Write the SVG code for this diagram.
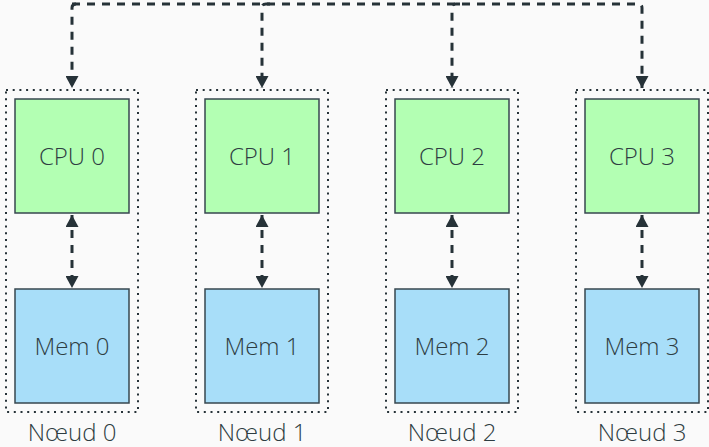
<svg xmlns="http://www.w3.org/2000/svg" width="709" height="447" viewBox="0 0 709 447">
  <defs>
    <marker id="head" viewBox="0 0 12 13" refX="12" refY="6.5" markerWidth="12" markerHeight="13" markerUnits="userSpaceOnUse" orient="auto-start-reverse">
      <path d="M0,0 L12,6.5 L0,13 Z" fill="#263238"/>
    </marker>
  </defs>
  <style>
    .frame { fill: none; stroke: #263238; stroke-width: 2; stroke-dasharray: 2 4.7; }
    .cpu { fill: #b3ffb3; stroke: #37474f; stroke-width: 1.5; }
    .mem { fill: #a8def9; stroke: #37474f; stroke-width: 1.5; }
    .link { fill: none; stroke: #263238; stroke-width: 3; stroke-dasharray: 8 7; }
    .lbl { font-family: "Open Sans", "Liberation Sans", sans-serif; font-weight: 300; font-size: 24px; fill: #2e3d42; text-anchor: middle; }
  </style>
  <rect width="709" height="447" fill="#fafafa"/>

  <g id="node0">
    <rect class="frame" x="6" y="90" width="132" height="322"/>
    <rect class="cpu" x="15" y="99" width="114" height="114"/>
    <text class="lbl" x="72" y="165">CPU 0</text>
    <rect class="mem" x="15" y="289" width="114" height="114"/>
    <text class="lbl" x="72" y="355">Mem 0</text>
    <text class="lbl" x="72" y="441">Nœud 0</text>
  </g>
  <g id="node1">
    <rect class="frame" x="196" y="90" width="132" height="322"/>
    <rect class="cpu" x="205" y="99" width="114" height="114"/>
    <text class="lbl" x="262" y="165">CPU 1</text>
    <rect class="mem" x="205" y="289" width="114" height="114"/>
    <text class="lbl" x="262" y="355">Mem 1</text>
    <text class="lbl" x="262" y="441">Nœud 1</text>
  </g>
  <g id="node2">
    <rect class="frame" x="386" y="90" width="132" height="322"/>
    <rect class="cpu" x="395" y="99" width="114" height="114"/>
    <text class="lbl" x="452" y="165">CPU 2</text>
    <rect class="mem" x="395" y="289" width="114" height="114"/>
    <text class="lbl" x="452" y="355">Mem 2</text>
    <text class="lbl" x="452" y="441">Nœud 2</text>
  </g>
  <g id="node3">
    <rect class="frame" x="576" y="90" width="132" height="322"/>
    <rect class="cpu" x="585" y="99" width="114" height="114"/>
    <text class="lbl" x="642" y="165">CPU 3</text>
    <rect class="mem" x="585" y="289" width="114" height="114"/>
    <text class="lbl" x="642" y="355">Mem 3</text>
    <text class="lbl" x="642" y="441">Nœud 3</text>
  </g>

  <g id="connectors">
    <!-- shared bus along the top -->
    <path class="link" d="M72,4 H638 Q642,4 642,8 V88" marker-end="url(#head)"/>
    <path class="link" d="M76,4 Q72,4 72,8 V88" marker-end="url(#head)"/>
    <path class="link" d="M270,4 H266 Q262,4 262,8 V88" marker-end="url(#head)"/>
    <path class="link" d="M460,4 H456 Q452,4 452,8 V88" marker-end="url(#head)"/>
    <!-- CPU to memory links -->
    <path class="link" d="M72,215 V288" marker-start="url(#head)" marker-end="url(#head)"/>
    <path class="link" d="M262,215 V288" marker-start="url(#head)" marker-end="url(#head)"/>
    <path class="link" d="M452,215 V288" marker-start="url(#head)" marker-end="url(#head)"/>
    <path class="link" d="M642,215 V288" marker-start="url(#head)" marker-end="url(#head)"/>
  </g>
</svg>
